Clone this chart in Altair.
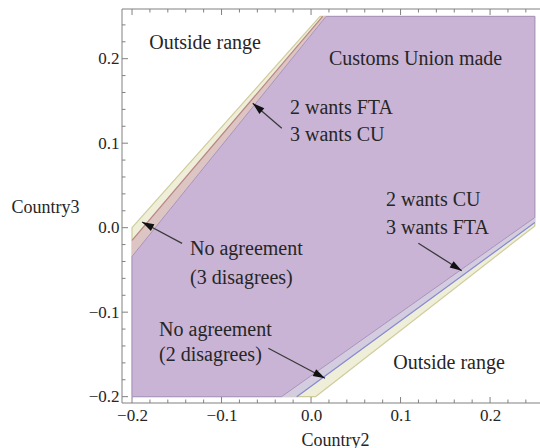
import math
import altair as alt
import pandas as pd

SERIF = "Liberation Serif, Times New Roman, serif"
INK = "#262626"
FRAME = "#808080"

W, H = 418, 394
X_DOM = [-0.2112, 0.2558]
Y_DOM = [-0.2075, 0.2588]

# Region vertices, (Country2, Country3)
feasible_c2 = [-0.2, -0.2, 0.010, 0.25, 0.25, 0.005]
feasible_c3 = [-0.2, 0.0, 0.25, 0.25, 0.002, -0.2]

fta_cu_c2 = [-0.2, 0.013, 0.0168, -0.2]
fta_cu_c3 = [-0.015, 0.25, 0.25, -0.034]

cu_fta_c2 = [-0.033, 0.25, 0.25, -0.016]
cu_fta_c3 = [-0.2, 0.012, 0.006, -0.2]

union_c2 = [-0.2, -0.2, 0.0168, 0.25, 0.25, -0.033]
union_c3 = [-0.2, -0.034, 0.25, 0.25, 0.012, -0.2]

# Dividing lines inside the bands
upper_mid_c2 = [-0.2, 0.013]
upper_mid_c3 = [-0.015, 0.25]
lower_mid_c2 = [-0.016, 0.25]
lower_mid_c3 = [-0.2, 0.006]

# Frame ticks
major_ticks = [-0.2, -0.1, 0.0, 0.1, 0.2]
minor_ticks = [-0.18, -0.16, -0.14, -0.12, -0.08, -0.06, -0.04, -0.02,
               0.02, 0.04, 0.06, 0.08, 0.12, 0.14, 0.16, 0.18, 0.22, 0.24]

# Annotations
center_text = ["Outside range", "Customs Union made", "Outside range"]
center_c2 = [-0.1184, 0.1168, 0.1542]
center_c3 = [0.2186, 0.1996, -0.1601]

left_text = ["2 wants FTA", "3 wants CU", "No agreement", "(3 disagrees)",
             "2 wants CU", "3 wants FTA", "No agreement", "(2 disagrees)"]
left_c2 = [-0.0235, -0.0235, -0.1352, -0.1352, 0.0838, 0.0838, -0.1698, -0.1698]
left_c3 = [0.1417, 0.1097, -0.0251, -0.0595, 0.0328, -0.0004, -0.1211, -0.1506]

# Arrows: tail -> head
arrow_tail_c2 = [-0.0327, -0.1441, -0.0477, 0.1199]
arrow_tail_c3 = [0.1176, -0.0185, -0.1427, -0.0185]
arrow_head_c2 = [-0.0651, -0.1888, 0.0156, 0.1684]
arrow_head_c3 = [0.1472, 0.0067, -0.1782, -0.0509]

XS = alt.Scale(domain=X_DOM, nice=False, zero=False)
YS = alt.Scale(domain=Y_DOM, nice=False, zero=False)

AX = alt.Axis(values=major_ticks, format=".1f", ticks=False, tickSize=0, domain=False,
              grid=False, labelFont=SERIF, labelFontSize=17, labelColor=INK,
              labelPadding=4, labelFlush=False, labelOverlap=False,
              title="Country2", titleFont=SERIF, titleFontSize=18,
              titleFontWeight="normal", titleColor=INK, titleX=213, titleY=37,
              titleAlign="center", titleBaseline="middle")
AY = alt.Axis(values=major_ticks, format=".1f", ticks=False, tickSize=0, domain=False,
              grid=False, labelFont=SERIF, labelFontSize=17, labelColor=INK,
              labelPadding=3, labelFlush=False, labelOverlap=False,
              title="Country3", titleFont=SERIF, titleFontSize=18,
              titleFontWeight="normal", titleColor=INK, titleAngle=0,
              titleX=-77, titleY=198, titleAlign="center", titleBaseline="middle")


def X(field):
    return alt.X(field, type="quantitative", scale=XS, axis=AX)


def Y(field):
    return alt.Y(field, type="quantitative", scale=YS, axis=AY)


def polygon(c2, c3, fill, stroke, width=1.0):
    c2 = list(c2) + [c2[0]]
    c3 = list(c3) + [c3[0]]
    df = pd.DataFrame({"c2": c2, "c3": c3, "k": list(range(len(c2)))})
    return alt.Chart(df).mark_line(
        filled=True, fill=fill, stroke=stroke, strokeWidth=width,
        interpolate="linear", strokeJoin="round"
    ).encode(x=X("c2"), y=Y("c3"), order=alt.Order("k:Q"))


def segment(c2, c3, color, width=1.0):
    df = pd.DataFrame({"c2": c2, "c3": c3, "k": list(range(len(c2)))})
    return alt.Chart(df).mark_line(color=color, strokeWidth=width).encode(
        x=X("c2"), y=Y("c3"), order=alt.Order("k:Q"))


feasible = polygon(feasible_c2, feasible_c3, "#efeed8", "#cfcc9c", 1.2)
band_up = polygon(fta_cu_c2, fta_cu_c3, "#dcc5c2", "#dcc5c2", 0.5)
band_lo = polygon(cu_fta_c2, cu_fta_c3, "#d4cde0", "#d4cde0", 0.5)
union = polygon(union_c2, union_c3, "#c9b4d6", "#a993bd", 1.0)
mid_up = segment(upper_mid_c2, upper_mid_c3, "#b98585", 1.2)
mid_lo = segment(lower_mid_c2, lower_mid_c3, "#8589d0", 1.2)

# Frame lines and inward ticks
frame_top = alt.Chart().mark_rule(color=FRAME, strokeWidth=1).encode(
    x=alt.value(0), x2=alt.value(W), y=alt.value(0))
frame_left = alt.Chart().mark_rule(color=FRAME, strokeWidth=1).encode(
    x=alt.value(0), y=alt.value(0), y2=alt.value(H))
frame_bottom = alt.Chart().mark_rule(color=FRAME, strokeWidth=1).encode(
    x=alt.value(0), x2=alt.value(W), y=alt.value(H))

ticks_major = pd.DataFrame({"v": major_ticks})
ticks_minor = pd.DataFrame({"v": minor_ticks})


def tick_layers(df, length):
    base = alt.Chart(df).mark_rule(color=FRAME, strokeWidth=1)
    return [
        base.encode(x=X("v"), y=alt.value(H), y2=alt.value(H - length)),
        base.encode(x=X("v"), y=alt.value(0), y2=alt.value(length)),
        base.encode(y=Y("v"), x=alt.value(0), x2=alt.value(length)),
    ]


ticks = tick_layers(ticks_major, 6) + tick_layers(ticks_minor, 3.5)

center_df = pd.DataFrame({"t": center_text, "c2": center_c2, "c3": center_c3})
left_df = pd.DataFrame({"t": left_text, "c2": left_c2, "c3": left_c3})
text_center = alt.Chart(center_df).mark_text(
    font=SERIF, fontSize=20, color=INK, align="center", baseline="middle"
).encode(x=X("c2"), y=Y("c3"), text="t:N")
text_left = alt.Chart(left_df).mark_text(
    font=SERIF, fontSize=20, color=INK, align="left", baseline="middle"
).encode(x=X("c2"), y=Y("c3"), text="t:N")

# Arrow heads point from tail to head; angle measured clockwise from up on screen
px_x = W / (X_DOM[1] - X_DOM[0])
px_y = H / (Y_DOM[1] - Y_DOM[0])
angles = []
for tx, ty, hx, hy in zip(arrow_tail_c2, arrow_tail_c3, arrow_head_c2, arrow_head_c3):
    dx = (hx - tx) * px_x
    dy = -(hy - ty) * px_y
    angles.append(math.degrees(math.atan2(dx, -dy)) % 360)

arrow_df = pd.DataFrame({
    "c2": arrow_tail_c2, "c3": arrow_tail_c3,
    "h2": arrow_head_c2, "h3": arrow_head_c3, "ang": angles,
})
shafts = alt.Chart(arrow_df).mark_rule(color="#3a3a3a", strokeWidth=1.3).encode(
    x=X("c2"), y=Y("c3"), x2="h2:Q", y2="h3:Q")
heads = alt.Chart(arrow_df).mark_point(
    shape="M0,0L0.62,2L-0.62,2Z", filled=True, size=144, color="#111111", opacity=1
).encode(x=X("h2"), y=Y("h3"), angle=alt.Angle("ang:Q", scale=None))

chart = alt.layer(
    feasible, band_up, band_lo, union, mid_up, mid_lo,
    frame_top, frame_left, frame_bottom, *ticks,
    text_center, text_left, shafts, heads,
).properties(
    width=W, height=H,
    padding={"left": 122, "top": 9, "right": 0, "bottom": 45},
    autosize=alt.AutoSizeParams(type="none"),
).configure_view(stroke=None)

chart.save("out.html", embed_options={"renderer": "svg", "actions": False})
